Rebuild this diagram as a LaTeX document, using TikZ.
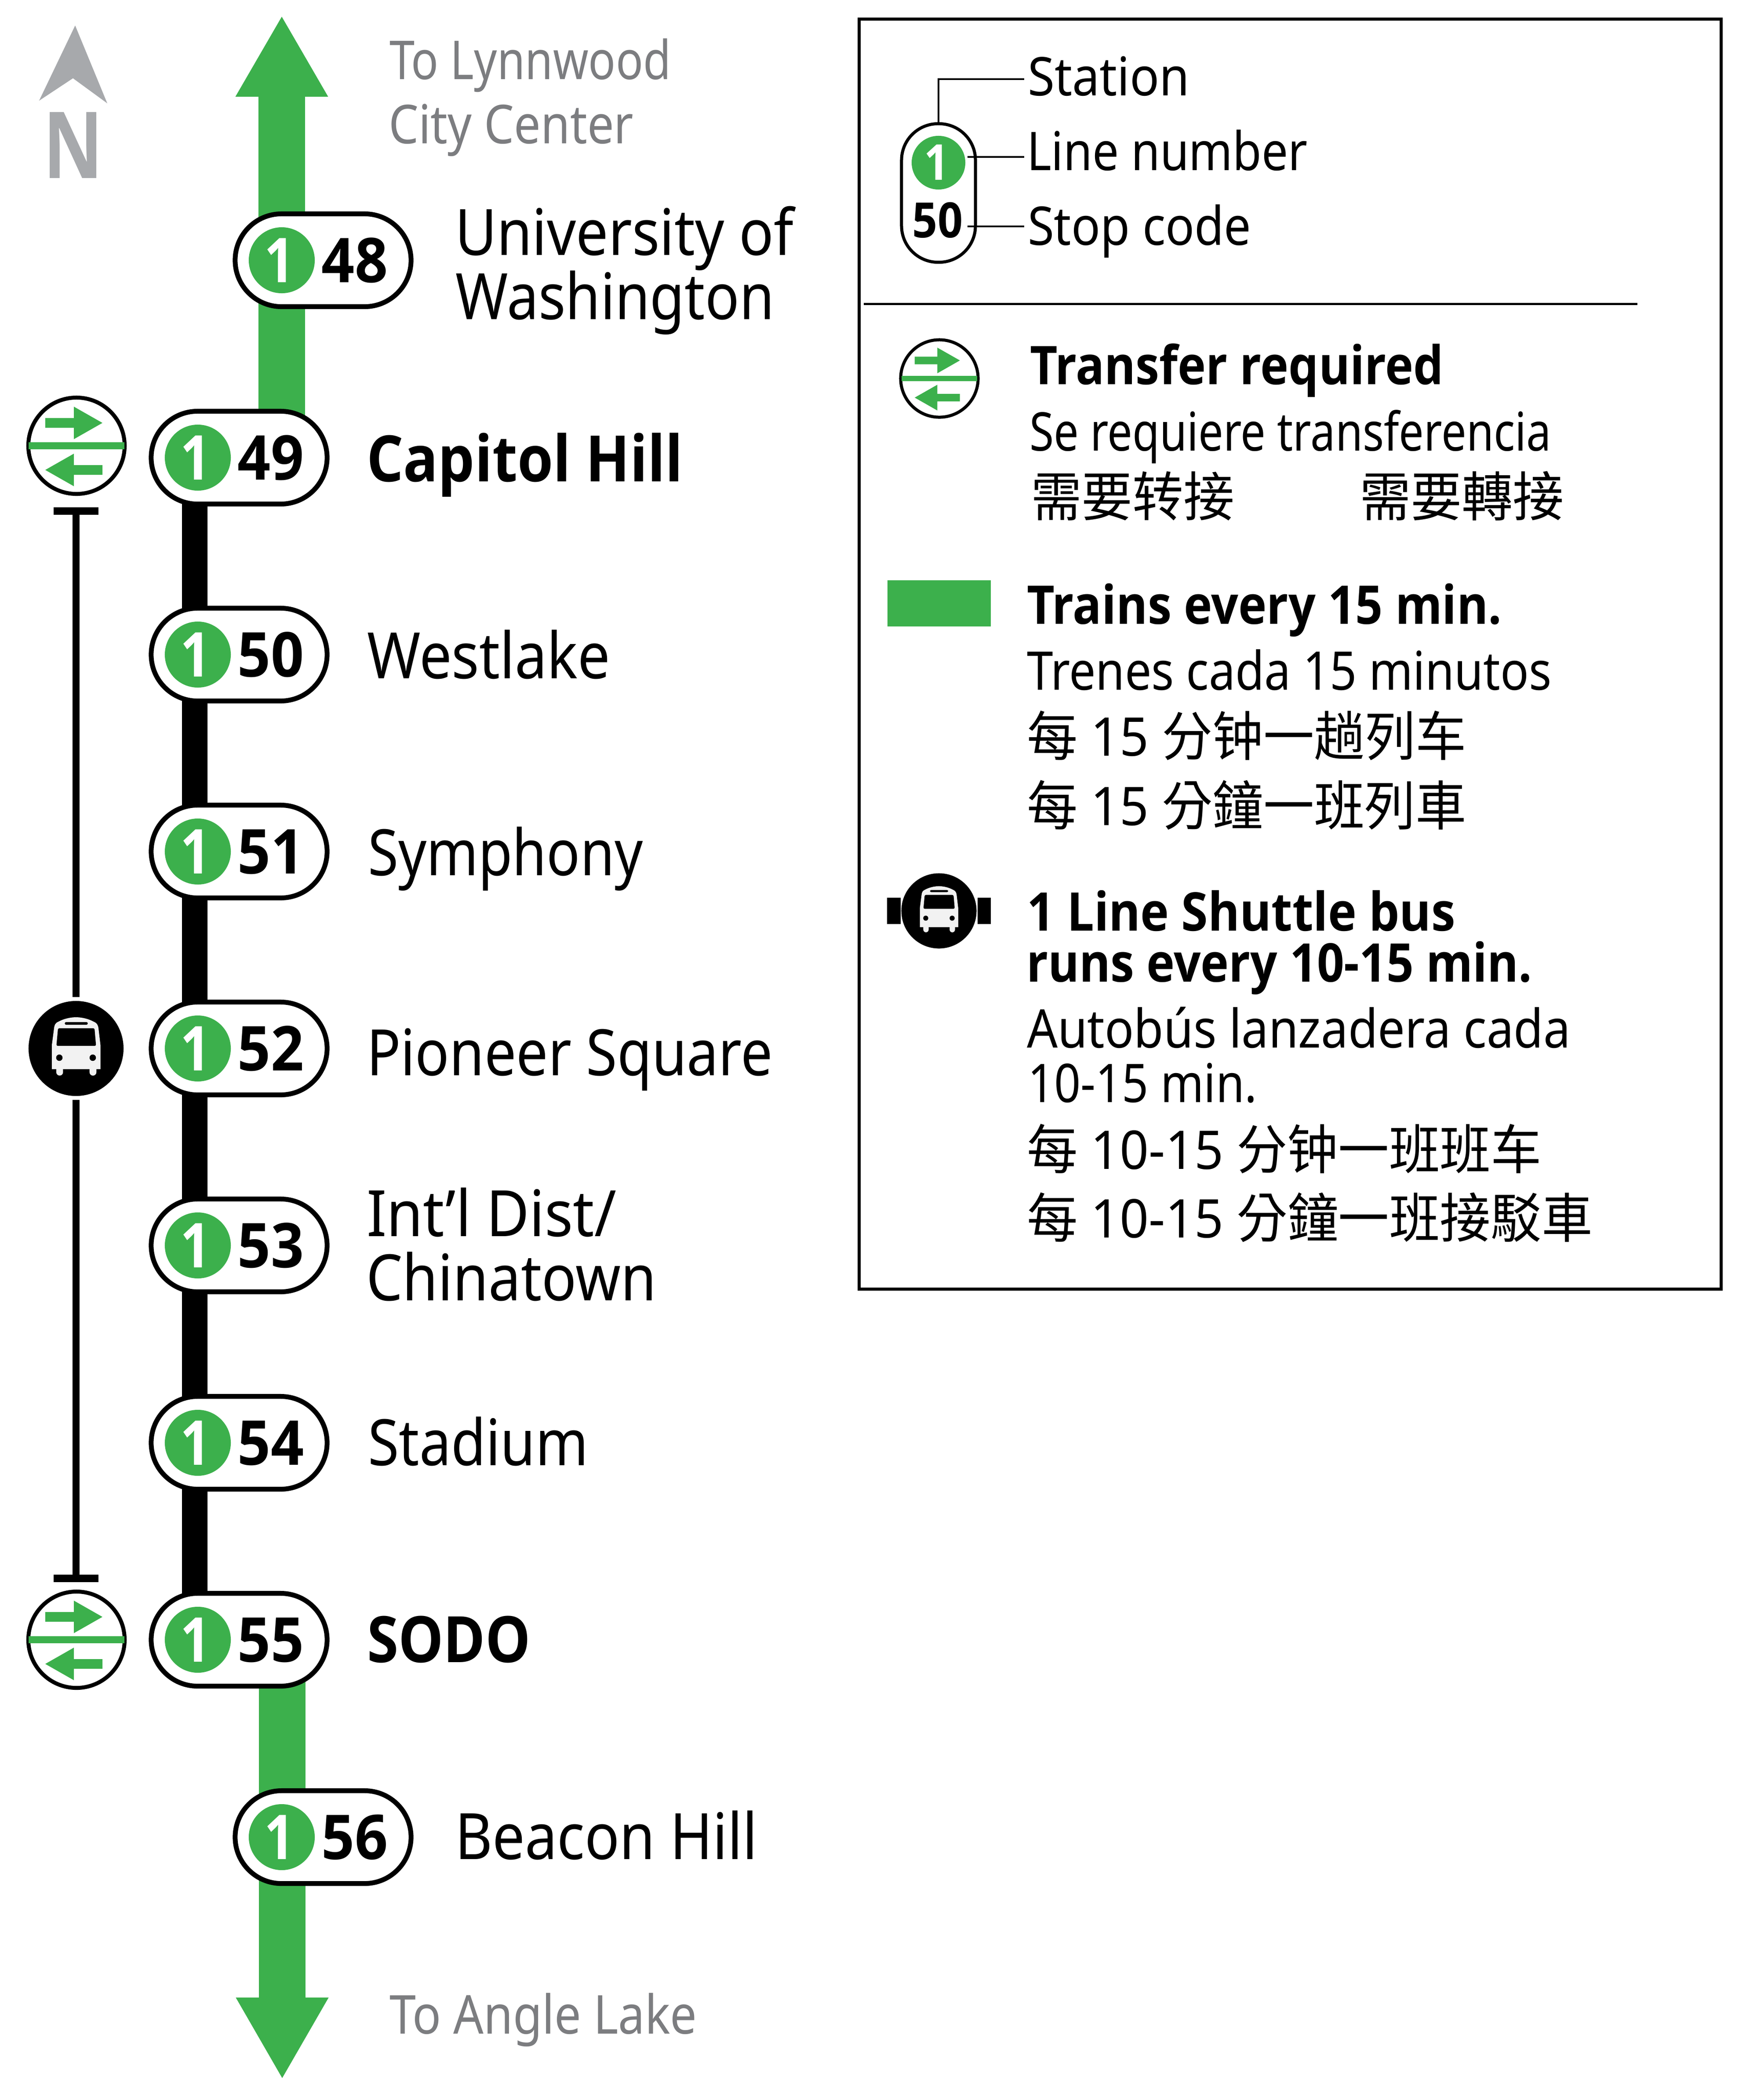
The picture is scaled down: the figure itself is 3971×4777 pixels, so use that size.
\documentclass[tikz,border=0pt]{standalone}
\usepackage{fontspec}
\usepackage{graphicx}
\usetikzlibrary{arrows.meta,backgrounds}
\setmainfont{Noto Sans}
\newfontfamily\heavyf{Open Sans}
\newfontfamily\scjk{Noto Sans CJK SC}
\newfontfamily\tcjk{Noto Sans CJK TC}
\definecolor{linegreen}{HTML}{3CB04C}
\definecolor{northgrey}{HTML}{A7A9AC}
\definecolor{destgrey}{HTML}{7C7D80}
\definecolor{busgrey}{HTML}{F2F2F2}
\newcommand\fsz[1]{\fontsize{#1pt}{#1pt}\selectfont}
\tikzset{
  txt/.style={anchor=base west,inner sep=0pt,outer sep=0pt},
  ctxt/.style={anchor=base,inner sep=0pt,outer sep=0pt},
  pill/.style={draw=black,fill=white,line width=0.11cm,rectangle,rounded corners=1.055cm,
    minimum width=4.00cm,minimum height=2.11cm,inner sep=0pt},
  linedisc/.style={circle,fill=linegreen,minimum size=1.50cm,inner sep=0pt},
  xfer/.style={circle,draw=black,fill=white,line width=0.09cm,inner sep=0pt},
  busdisc/.style={circle,fill=black,inner sep=0pt},
  greenline/.style={draw=linegreen,line width=1.06cm},
  blackline/.style={draw=black,line width=0.58cm},
  shuttleline/.style={draw=black,line width=0.15cm},
  leader/.style={draw=black,line width=0.045cm},
}
% name, x, baseline, width(cm), font, text
\newcommand\lbl[6]{\node[txt] (#1) at (#2,#3) {\resizebox{#4cm}{\height}{#5#6}};}
\newcommand\stationtext{\fsz{41.4}}
\newcommand\stationbold{\fsz{41.4}\heavyf\bfseries}
\newcommand\legendtext{\fsz{34.5}}
\newcommand\legendbold{\fsz{34.5}\heavyf\bfseries}
\newcommand\desttext{\fsz{34.7}}
% code, disc x, y
\newcommand\stationpill[3]{%
  \node[pill] (s#1) at (#2+94,#3) {};
  \node[linedisc] (c#1) at (#2,#3) {};
  \node[ctxt,text=white] (one#1) at (#2-5,#3+50) {\resizebox{0.68cm}{\height}{\fsz{40}\heavyf\bfseries 1}};
  \node[ctxt] (code#1) at (#2+166,#3+50) {\resizebox{1.50cm}{\height}{\fsz{40}\heavyf\bfseries #1}};
}
% x, y, scale: green arrows and bar of the transfer sign
\newcommand\xfermarks[3]{%
  \begin{scope}[shift={(#1,#2)},scale=#3]
    \fill[linegreen] (-109,-8) rectangle (109,8);
    \fill[linegreen] (-71,-63) -- (-6,-63) -- (-6,-89) -- (59,-52) -- (-6,-15) -- (-6,-41) -- (-71,-41) -- cycle;
    \fill[linegreen] (59,44) -- (-6,44) -- (-6,18) -- (-71,55) -- (-6,92) -- (-6,66) -- (59,66) -- cycle;
  \end{scope}}
% x, y, scale: bus glyph
\newcommand\busglyph[3]{%
  \begin{scope}[shift={(#1,#2)},scale=#3]
    \fill[busgrey] (-55,47) -- (-55,-8) -- (-50,-46) .. controls (-49,-54) and (-47,-58) .. (-40,-61)
      .. controls (-25,-69) and (-10,-71) .. (0,-71) .. controls (10,-71) and (25,-69) .. (40,-61)
      .. controls (47,-58) and (50,-54) .. (51,-46) -- (55.5,-8) -- (55.5,47) -- cycle;
    \fill[busgrey] (-45,45) -- (-45,54) arc[start angle=180,end angle=0,radius=7.7] -- (-29.6,45) -- cycle;
    \fill[busgrey] (30.7,45) -- (30.7,54) arc[start angle=180,end angle=0,radius=7.8] -- (46.3,45) -- cycle;
    \fill[black,rounded corners=0.03cm] (-41,-46) -- (42,-46) -- (45.5,-6) -- (-44.7,-6) -- cycle;
    \fill[black,rounded corners=0.03cm] (-25.7,-60) rectangle (26.7,-54);
    \fill[black] (-38,21) circle[radius=7.3];
    \fill[black] (38,21) circle[radius=7.3];
  \end{scope}}
\begin{document}
\begin{tikzpicture}[x=0.01cm,y=-0.01cm]
\useasboundingbox (0,0) rectangle (3971,4777);

% --- north arrow
\fill[northgrey] (171,58) -- (244,235) -- (166,178) -- (89,229) -- cycle;
\node[ctxt,text=northgrey] (north) at (167,405) {\resizebox{1.36cm}{\height}{\fsz{59.8}\heavyf\bfseries N}};

% --- stations
\stationpill{48}{641}{592}
\stationpill{49}{450}{1041}
\stationpill{50}{450}{1489}
\stationpill{51}{450}{1937}
\stationpill{52}{450}{2385}
\stationpill{53}{450}{2833}
\stationpill{54}{450}{3282}
\stationpill{55}{450}{3730}
\stationpill{56}{641}{4179}

% --- line coordinates
\coordinate (topTip) at (641,38);
\coordinate (botTip) at (642,4727);
\coordinate (greenTop) at (641,1041);
\coordinate (greenBot) at (642,3730);
\coordinate (blackTop) at (443,1041);
\coordinate (blackBot) at (443,3730);

% --- transfer and shuttle signs
\node[xfer,minimum size=2.19cm] (x1) at (174,1014) {};
\xfermarks{174}{1014}{1}
\node[xfer,minimum size=2.19cm] (x2) at (174,3730) {};
\xfermarks{174}{3730}{1}
\node[busdisc,minimum size=2.16cm] (bus) at (173,2385) {};
\busglyph{173}{2385}{1}
\coordinate (barTop) at (173,1154);
\coordinate (barBot) at (173,3599);

\begin{scope}[on background layer]
  \draw[greenline,-{Triangle[length=1.82cm,width=2.11cm,line width=0pt]}] (greenTop) -- (topTip);
  \draw[greenline,-{Triangle[length=1.83cm,width=2.11cm,line width=0pt]}] (greenBot) -- (botTip);
  \draw[blackline] (blackTop) -- (blackBot);
  \draw[shuttleline,{Bar[width=1.02cm,line width=0.17cm]}-,shorten >=0.08cm] (barTop) -- (bus);
  \draw[shuttleline,{Bar[width=1.02cm,line width=0.17cm]}-,shorten >=0.08cm] (barBot) -- (bus);
\end{scope}

% --- destinations
\lbl{dest1a}{886}{180}{6.40}{\desttext\color{destgrey}}{To Lynnwood}
\lbl{dest1b}{884}{326}{5.57}{\desttext\color{destgrey}}{City Center}
\lbl{dest2}{886}{4626}{6.99}{\desttext\color{destgrey}}{To Angle Lake}

% --- station names
\lbl{n48a}{1035}{580}{7.70}{\stationtext}{University of}
\lbl{n48b}{1036}{726}{7.25}{\stationtext}{Washington}
\lbl{n49}{834}{1095}{7.19}{\stationbold}{Capitol Hill}
\lbl{n50}{835}{1543}{5.53}{\stationtext}{Westlake}
\lbl{n51}{837}{1991}{6.25}{\stationtext}{Symphony}
\lbl{n52}{834}{2446}{9.23}{\stationtext}{Pioneer Square}
\lbl{n53a}{834}{2812}{5.68}{\stationtext}{Int’l Dist/}
\lbl{n53b}{833}{2958}{6.60}{\stationtext}{Chinatown}
\lbl{n54}{837}{3333}{5.01}{\stationtext}{Stadium}
\lbl{n55}{835}{3781}{3.72}{\stationbold}{SODO}
\lbl{n56}{1035}{4229}{6.88}{\stationtext}{Beacon Hill}

% --- legend frame
\node[draw=black,line width=0.07cm,rectangle,minimum width=19.60cm,minimum height=28.87cm,inner sep=0pt] (frame) at (2935,1488) {};

% --- key to the station sign
\node[draw=black,fill=white,line width=0.07cm,rectangle,rounded corners=0.83cm,minimum width=1.68cm,minimum height=3.15cm,inner sep=0pt] (lp) at (2135,439) {};
\node[circle,fill=linegreen,minimum size=1.22cm,inner sep=0pt] (lc) at (2135,370) {};
\node[ctxt,text=white] (lone) at (2130,409) {\resizebox{0.56cm}{\height}{\fsz{32}\heavyf\bfseries 1}};
\node[ctxt] (lcode) at (2133,540) {\resizebox{1.14cm}{\height}{\fsz{31.5}\heavyf\bfseries 50}};
\coordinate (lsEnd) at (2330,180);
\coordinate (lnStart) at (2201,357);
\coordinate (lnEnd) at (2330,357);
\coordinate (lcStart) at (2201,515);
\coordinate (lcEnd) at (2330,515);
\draw[leader] (lp.north) |- (lsEnd);
\draw[leader] (lnStart) -- (lnEnd);
\draw[leader] (lcStart) -- (lcEnd);
\lbl{kStation}{2338}{217}{3.68}{\legendtext}{Station}
\lbl{kLine}{2336}{387}{6.38}{\legendtext}{Line number}
\lbl{kStop}{2338}{557}{5.08}{\legendtext}{Stop code}

% --- divider
\coordinate (divA) at (1965,691);
\coordinate (divB) at (3725,691);
\draw[draw=black,line width=0.05cm] (divA) -- (divB);

% --- transfer
\node[xfer,line width=0.07cm,minimum size=1.76cm] (kx) at (2137,861) {};
\xfermarks{2137}{861}{0.79}
\lbl{kT1}{2343}{874}{9.40}{\legendbold}{Transfer required}
\lbl{kT2}{2342}{1025}{11.86}{\legendtext}{Se requiere transferencia}
\lbl{kT3}{2345}{1174}{4.63}{\scjk\legendtext}{需要转接}
\lbl{kT4}{3093}{1174}{4.65}{\tcjk\legendtext}{需要轉接}

% --- green swatch
\fill[linegreen] (2019,1320) rectangle (2254,1425);
\lbl{kG1}{2336}{1419}{10.80}{\legendbold}{Trains every 15 min.}
\lbl{kG2}{2336}{1569}{11.93}{\legendtext}{Trenes cada 15 minutos}
\lbl{kG3}{2336}{1719}{9.99}{\legendtext}{{\scjk 每} 15 {\scjk 分钟一趟列车}}
\lbl{kG4}{2336}{1877}{9.99}{\legendtext}{{\tcjk 每} 15 {\tcjk 分鐘一班列車}}

% --- shuttle
\fill[black] (2018,2042) rectangle (2049,2102);
\fill[black] (2224,2042) rectangle (2254,2102);
\node[busdisc,minimum size=1.71cm] (kbus) at (2136,2072) {};
\busglyph{2136}{2072}{0.79}
\lbl{kB1}{2336}{2117}{9.74}{\legendbold}{1 Line Shuttle bus}
\lbl{kB2}{2335}{2233}{11.50}{\legendbold}{runs every 10-15 min.}
\lbl{kB3}{2336}{2383}{12.36}{\legendtext}{Autobús lanzadera cada}
\lbl{kB4}{2338}{2507}{5.21}{\legendtext}{10-15 min.}
\lbl{kB5}{2336}{2659}{11.70}{\legendtext}{{\scjk 每} 10-15 {\scjk 分钟一班班车}}
\lbl{kB6}{2336}{2815}{12.86}{\legendtext}{{\tcjk 每} 10-15 {\tcjk 分鐘一班接駁車}}
\end{tikzpicture}
\end{document}
